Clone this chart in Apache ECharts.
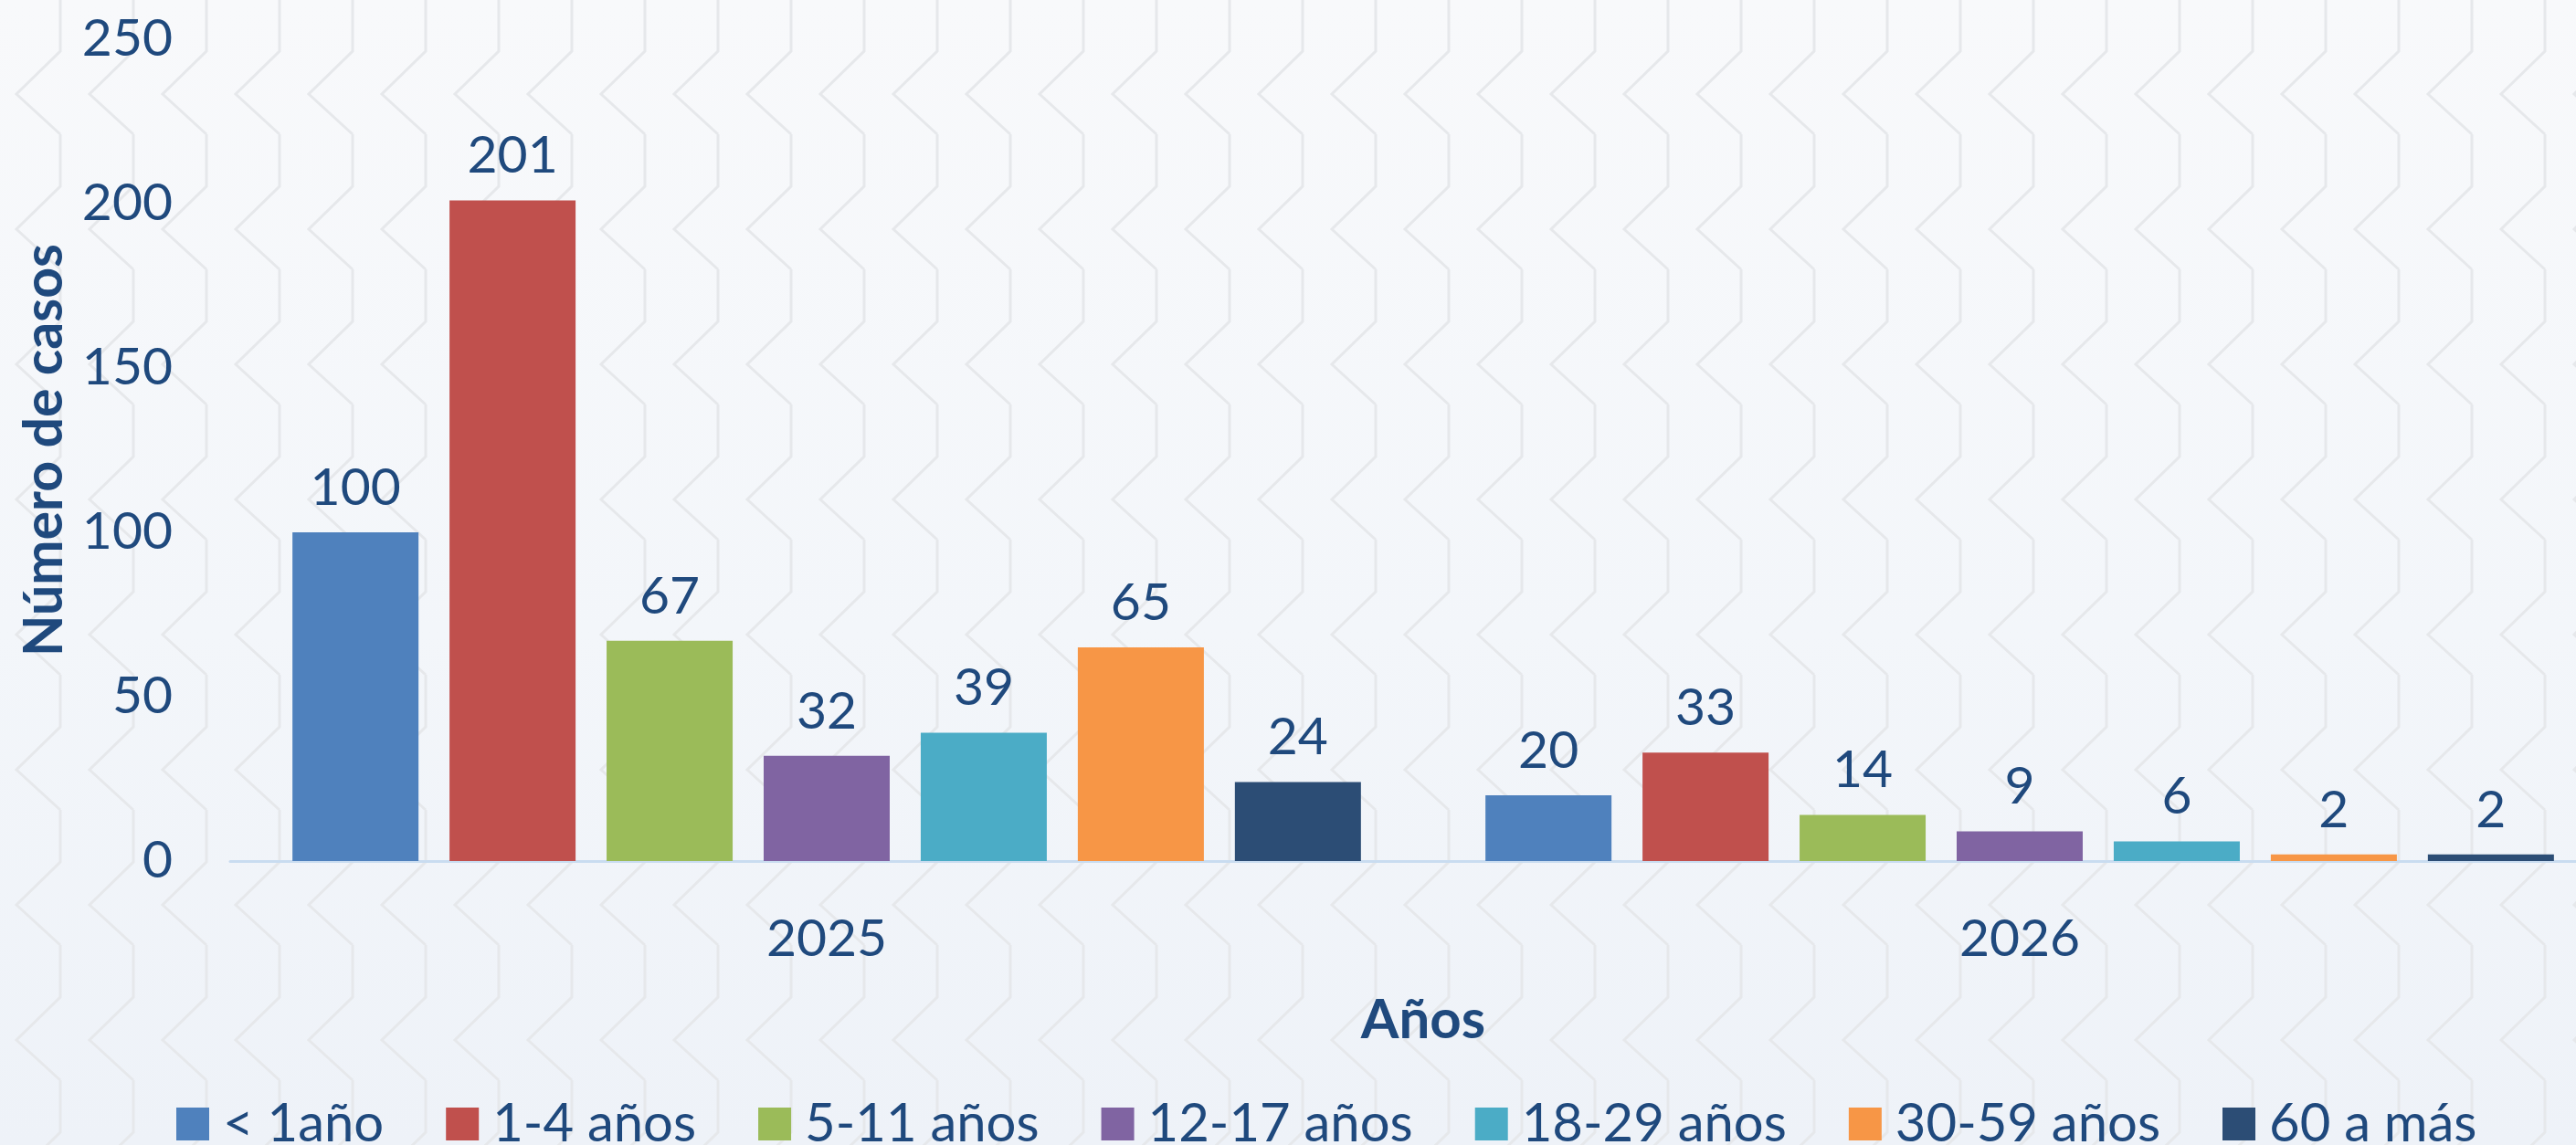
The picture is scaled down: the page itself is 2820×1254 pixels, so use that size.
<!DOCTYPE html>
<html>
<head>
<meta charset="utf-8">
<style>
  html, body { margin:0; padding:0; width:2820px; height:1254px; overflow:hidden; }
  body {
    background-color:#f4f6fa;
    background-image:
      url("data:image/svg+xml;utf8,<svg xmlns='http://www.w3.org/2000/svg' width='80' height='148'><path d='M70,0 V57 L22,104 L70,148' fill='none' stroke='%23e6e8eb' stroke-width='3'/></svg>"),
      linear-gradient(to bottom, #f8f9fb 0%, #f3f6fa 55%, #eef2f8 100%);
    background-position: -4px -1px, 0 0;
  }
  #chart { width:2864px; height:1254px; }
</style>
<script src="https://cdn.jsdelivr.net/npm/echarts@6/dist/echarts.min.js"></script>
</head>
<body>
<div id="chart"></div>
<script>
const categories = ['2025', '2026'];
const seriesNames = ['< 1año', '1-4 años', '5-11 años', '12-17 años', '18-29 años', '30-59 años', '60 a más'];
const vMenor1 = [100, 20];
const v1a4 = [201, 33];
const v5a11 = [67, 14];
const v12a17 = [32, 9];
const v18a29 = [39, 6];
const v30a59 = [65, 2];
const v60mas = [24, 2];
const yTicks = [0, 50, 100, 150, 200, 250];
const colors = ['#4f81bd', '#c0504d', '#9bbb59', '#8064a2', '#4bacc6', '#f79646', '#2c4d75'];
const allValues = [vMenor1, v1a4, v5a11, v12a17, v18a29, v30a59, v60mas];

const textColor = '#1f497d';
const fontFamily = 'Lato';

const chart = echarts.init(document.getElementById('chart'), null, { renderer: 'canvas' });
const series = seriesNames.map((name, i) => ({
  name: name,
  type: 'bar',
  data: allValues[i],
  barWidth: 138,
  barGap: '24.6%',
  itemStyle: { color: colors[i] },
  label: {
    show: true,
    position: 'top',
    distance: 20,
    color: textColor,
    fontFamily: fontFamily,
    fontSize: 57
  }
}));

chart.setOption({
  backgroundColor: 'transparent',
  animation: false,
  color: colors,
  grid: { left: 252, right: 0, top: 43, bottom: 311, containLabel: false },
  legend: {
    data: seriesNames,
    left: 188,
    top: 1197,
    icon: 'rect',
    itemWidth: 36,
    itemHeight: 36,
    itemGap: 68,
    textStyle: { color: textColor, fontFamily: fontFamily, fontSize: 58, padding: [0, 0, 0, 10] }
  },
  xAxis: {
    type: 'category',
    data: categories,
    name: 'Años',
    nameLocation: 'middle',
    nameGap: 145,
    nameTextStyle: { color: textColor, fontFamily: fontFamily, fontSize: 60, fontWeight: 'bold' },
    axisLine: { show: true, lineStyle: { color: '#c9dcf0', width: 3 } },
    axisTick: { show: false },
    axisLabel: { color: textColor, fontFamily: fontFamily, fontSize: 57, margin: 57 }
  },
  yAxis: {
    type: 'value',
    min: yTicks[0],
    max: yTicks[yTicks.length - 1],
    interval: 50,
    name: 'Número de casos',
    nameLocation: 'middle',
    nameGap: 174,
    nameTextStyle: { color: textColor, fontFamily: fontFamily, fontSize: 59, fontWeight: 'bold' },
    axisLine: { show: false },
    axisTick: { show: false },
    splitLine: { show: false },
    axisLabel: { color: textColor, fontFamily: fontFamily, fontSize: 57, margin: 63 }
  },
  series: series
});
</script>
</body>
</html>
